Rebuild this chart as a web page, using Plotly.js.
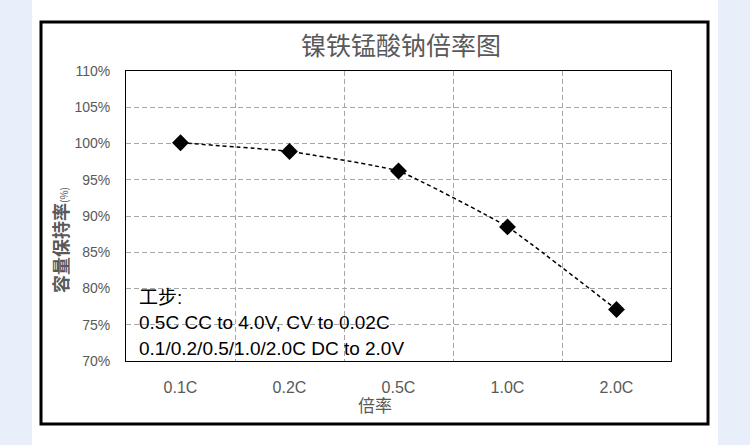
<!DOCTYPE html>
<html>
<head>
<meta charset="utf-8">
<script src="https://cdn.plot.ly/plotly-3.0.1.min.js"></script>
<style>html,body{margin:0;padding:0;background:#e8eefa;}</style>
</head>
<body>
<div id="chart" style="width:750px;height:445px;"></div>
<script>
// Data
var rates = ['0.1C', '0.2C', '0.5C', '1.0C', '2.0C'];
var retention = [100.1, 98.9, 96.2, 88.5, 77.1];
var yTickVals = [70, 75, 80, 85, 90, 95, 100, 105, 110];
var yTickText = ['70%', '75%', '80%', '85%', '90%', '95%', '100%', '105%', '110%'];
var noteLines = ['工步:', '0.5C CC to 4.0V, CV to 0.02C', '0.1/0.2/0.5/1.0/2.0C DC to 2.0V'];

var W = 750, H = 445;
var L = 126, R = 671, T = 71, B = 361;
function px(x) { return (x - L) / (R - L); }
function py(y) { return (B - y) / (B - T); }

var grey = '#595959';
var font = 'Liberation Sans, Arial, "Noto Sans CJK SC", sans-serif';
var cjk = '"Noto Sans CJK SC", sans-serif';

var trace = {
  x: rates,
  y: retention,
  type: 'scatter',
  mode: 'lines+markers',
  line: {color: '#000000', width: 1.5, dash: '4px,3px', shape: 'spline', smoothing: 0.35},
  marker: {symbol: 'diamond', size: 13, color: '#000000'},
  hoverinfo: 'x+y'
};

var annotations = [];
var noteY = [297, 322, 348];
noteLines.forEach(function (t, i) {
  annotations.push({
    text: t, xref: 'paper', yref: 'paper', x: px(137), y: py(noteY[i]),
    xanchor: 'left', yanchor: 'middle', showarrow: false,
    font: {family: font, size: 19, color: '#000000'}
  });
});
// axis titles
annotations.push({
  text: '倍率', xref: 'paper', yref: 'paper', x: px(375), y: py(404),
  xanchor: 'center', yanchor: 'middle', showarrow: false,
  font: {family: cjk, size: 17, color: grey}
});
annotations.push({
  text: '<b>容量保持率</b><span style="font-size:10px">(%)</span>',
  xref: 'paper', yref: 'paper', x: px(60), y: py(240), textangle: -90,
  xanchor: 'center', yanchor: 'middle', showarrow: false,
  font: {family: cjk, size: 18, color: grey}
});

var layout = {
  width: W, height: H,
  margin: {l: L, r: W - R, t: T, b: H - B, pad: 0},
  paper_bgcolor: '#e8eefa',
  plot_bgcolor: '#ffffff',
  showlegend: false,
  font: {family: font, color: grey, size: 14},
  title: {
    text: '镍铁锰酸钠倍率图',
    font: {family: cjk, size: 25, color: grey},
    x: 401 / W, xanchor: 'center', xref: 'container',
    y: 1 - 46 / H, yanchor: 'middle', yref: 'container'
  },
  xaxis: {
    type: 'category',
    categoryorder: 'array', categoryarray: rates,
    range: [-0.5, 4.5],
    tickson: 'boundaries',
    ticks: '', ticklen: 0,
    showgrid: true, gridcolor: '#a6a6a6', griddash: '5px,3px', gridwidth: 1,
    showline: true, linecolor: '#000000', linewidth: 1, mirror: true,
    tickfont: {family: font, size: 16, color: grey},
    ticklabelstandoff: 12,
    fixedrange: true
  },
  yaxis: {
    range: [70, 110],
    tickmode: 'array',
    tickvals: yTickVals,
    ticktext: yTickText,
    ticks: '', ticklen: 0,
    showgrid: true, gridcolor: '#a6a6a6', griddash: '5px,3px', gridwidth: 1,
    zeroline: false,
    showline: true, linecolor: '#000000', linewidth: 1, mirror: true,
    tickfont: {family: font, size: 14, color: grey},
    ticklabelstandoff: 12,
    fixedrange: true
  },
  shapes: [
    {type: 'rect', xref: 'paper', yref: 'paper', layer: 'below',
     x0: px(32), x1: px(718), y0: py(0), y1: py(H),
     fillcolor: '#ffffff', line: {width: 0}},
    {type: 'rect', xref: 'paper', yref: 'paper', layer: 'above',
     x0: px(41), x1: px(708), y0: py(22), y1: py(424),
     fillcolor: 'rgba(0,0,0,0)', line: {color: '#000000', width: 3}}
  ],
  annotations: annotations
};

Plotly.newPlot('chart', [trace], layout, {displayModeBar: false, staticPlot: true});
</script>
</body>
</html>
